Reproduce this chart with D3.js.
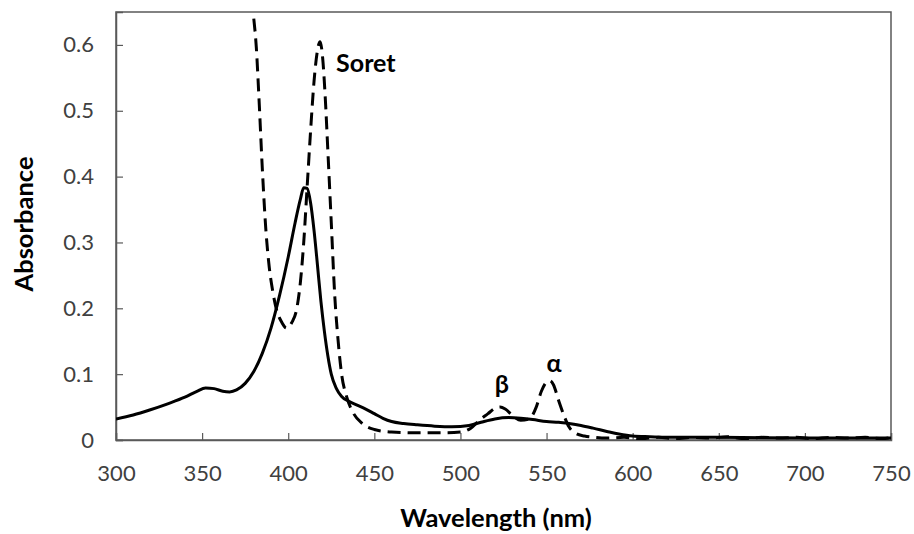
<!DOCTYPE html>
<html>
<head>
<meta charset="utf-8">
<script src="https://cdn.jsdelivr.net/npm/d3@7"></script>
<style>
  html, body { margin: 0; padding: 0; background: #fff; }
  svg { display: block; font-family: Lato, "Liberation Sans", sans-serif; }
</style>
</head>
<body>
<svg id="chart" width="914" height="534"></svg>
<script>
// Wavelength (nm) and absorbance for the solid spectrum
const solidWl = [300, 310, 320, 330, 340, 347, 352, 357, 362, 366, 370, 375, 380, 385, 390, 395, 400, 404, 407, 409, 411, 413, 415, 417, 419, 421, 423, 425, 428, 431, 435, 440, 445, 450, 455, 460, 467, 475, 485, 495, 505, 512, 520, 528, 535, 542, 550, 557, 563, 570, 577, 585, 592, 600, 610, 625, 650, 700, 750];
const solidAbs = [0.032, 0.038, 0.046, 0.055, 0.065, 0.074, 0.079, 0.078, 0.074, 0.073, 0.076, 0.086, 0.104, 0.132, 0.170, 0.220, 0.278, 0.330, 0.365, 0.383, 0.382, 0.360, 0.318, 0.265, 0.210, 0.165, 0.128, 0.100, 0.078, 0.066, 0.059, 0.053, 0.047, 0.040, 0.033, 0.028, 0.025, 0.023, 0.021, 0.020, 0.022, 0.027, 0.032, 0.034, 0.033, 0.031, 0.028, 0.027, 0.025, 0.022, 0.018, 0.013, 0.009, 0.006, 0.005, 0.004, 0.004, 0.003, 0.003];

// Wavelength (nm) and absorbance for the dashed spectrum
const dashedWl = [380, 381.5, 383, 385, 387, 389, 391, 393, 396, 399, 402, 405, 407, 409, 411, 413, 415, 417, 418.5, 420, 421.5, 423, 425, 427, 429, 431, 434, 438, 443, 450, 460, 475, 490, 500, 506, 511, 516, 520, 523, 526, 530, 535, 540, 544, 547, 550, 552, 554, 557, 560, 563, 567, 572, 578, 585, 595, 605, 615, 625, 635, 645, 655, 665, 675, 685, 695, 705, 715, 725, 735, 745, 750];
const dashedAbs = [0.640, 0.595, 0.520, 0.410, 0.320, 0.262, 0.226, 0.200, 0.180, 0.170, 0.178, 0.200, 0.238, 0.300, 0.385, 0.470, 0.545, 0.592, 0.605, 0.580, 0.520, 0.440, 0.330, 0.220, 0.150, 0.100, 0.065, 0.040, 0.025, 0.016, 0.012, 0.011, 0.011, 0.012, 0.018, 0.030, 0.040, 0.048, 0.050, 0.047, 0.038, 0.030, 0.032, 0.050, 0.074, 0.088, 0.090, 0.084, 0.060, 0.038, 0.020, 0.010, 0.006, 0.004, 0.003, 0.004, 0.002, 0.004, 0.002, 0.004, 0.003, 0.005, 0.002, 0.004, 0.003, 0.004, 0.002, 0.004, 0.003, 0.004, 0.002, 0.004];

const xTicks = [300, 350, 400, 450, 500, 550, 600, 650, 700, 750];
const yTicks = [0, 0.1, 0.2, 0.3, 0.4, 0.5, 0.6];

// Peak annotations: text anchored at a wavelength/absorbance position
const peakLabels = ["Soret", "β", "α"];
const peakWl = [427.8, 524, 554.4];
const peakAbs = [0.559, 0.0714, 0.103];

const svg = d3.select("#chart");
const margin = { left: 116, right: 23, top: 12, bottom: 94 };
const W = 914, H = 534;
const innerW = W - margin.left - margin.right;
const innerH = H - margin.top - margin.bottom;

const x = d3.scaleLinear().domain([300, 750]).range([margin.left, margin.left + innerW]);
const y = d3.scaleLinear().domain([0, 0.65]).range([margin.top + innerH, margin.top]);

const axisColor = "#595959";
const tickText = "#404040";

// Plot frame
svg.append("rect")
  .attr("x", margin.left).attr("y", margin.top)
  .attr("width", innerW).attr("height", innerH)
  .attr("fill", "none").attr("stroke", axisColor).attr("stroke-width", 1.5);

svg.append("clipPath").attr("id", "plotClip")
  .append("rect")
  .attr("x", margin.left).attr("y", margin.top)
  .attr("width", innerW).attr("height", innerH);

// Axes with inward ticks
const xAxis = svg.append("g")
  .attr("transform", `translate(0,${margin.top + innerH})`)
  .call(d3.axisBottom(x).tickValues(xTicks).tickSize(-7).tickPadding(25).tickFormat(d3.format("d")));
const yAxis = svg.append("g")
  .attr("transform", `translate(${margin.left},0)`)
  .call(d3.axisLeft(y).tickValues(yTicks).tickSize(-7).tickPadding(22)
    .tickFormat(d => d === 0 ? "0" : d3.format(".1f")(d)));

[xAxis, yAxis].forEach(g => {
  g.select(".domain").attr("stroke", axisColor).attr("stroke-width", 1.5);
  g.selectAll(".tick line").attr("stroke", axisColor).attr("stroke-width", 1.2);
  g.selectAll(".tick text").attr("fill", tickText).attr("font-size", 22).attr("font-family", "Lato, sans-serif");
});
xAxis.selectAll(".tick text").attr("dy", "0.71em");

// Spectra
const line = d3.line().x(d => x(d[0])).y(d => y(d[1])).curve(d3.curveMonotoneX);

const plot = svg.append("g").attr("clip-path", "url(#plotClip)");

plot.append("path")
  .datum(dashedWl.map((w, i) => [w, dashedAbs[i]]))
  .attr("d", line)
  .attr("fill", "none").attr("stroke", "#000")
  .attr("stroke-width", 3).attr("stroke-dasharray", "13,7");

plot.append("path")
  .datum(solidWl.map((w, i) => [w, solidAbs[i]]))
  .attr("d", line)
  .attr("fill", "none").attr("stroke", "#000")
  .attr("stroke-width", 3).attr("stroke-linejoin", "round");

// Peak annotations
svg.append("g").selectAll("text")
  .data(peakLabels)
  .join("text")
  .attr("x", (d, i) => x(peakWl[i]))
  .attr("y", (d, i) => y(peakAbs[i]))
  .attr("text-anchor", (d, i) => i === 0 ? "start" : "middle")
  .attr("font-size", 25).attr("font-weight", "bold").attr("fill", "#000")
  .text(d => d);

// Axis titles
svg.append("text")
  .attr("x", 496).attr("y", 527)
  .attr("text-anchor", "middle")
  .attr("font-size", 25.5).attr("font-weight", "bold").attr("fill", "#000")
  .text("Wavelength (nm)");

svg.append("text")
  .attr("transform", `translate(33,${224}) rotate(-90)`)
  .attr("text-anchor", "middle")
  .attr("font-size", 25.5).attr("font-weight", "bold").attr("fill", "#000")
  .text("Absorbance");
</script>
</body>
</html>
